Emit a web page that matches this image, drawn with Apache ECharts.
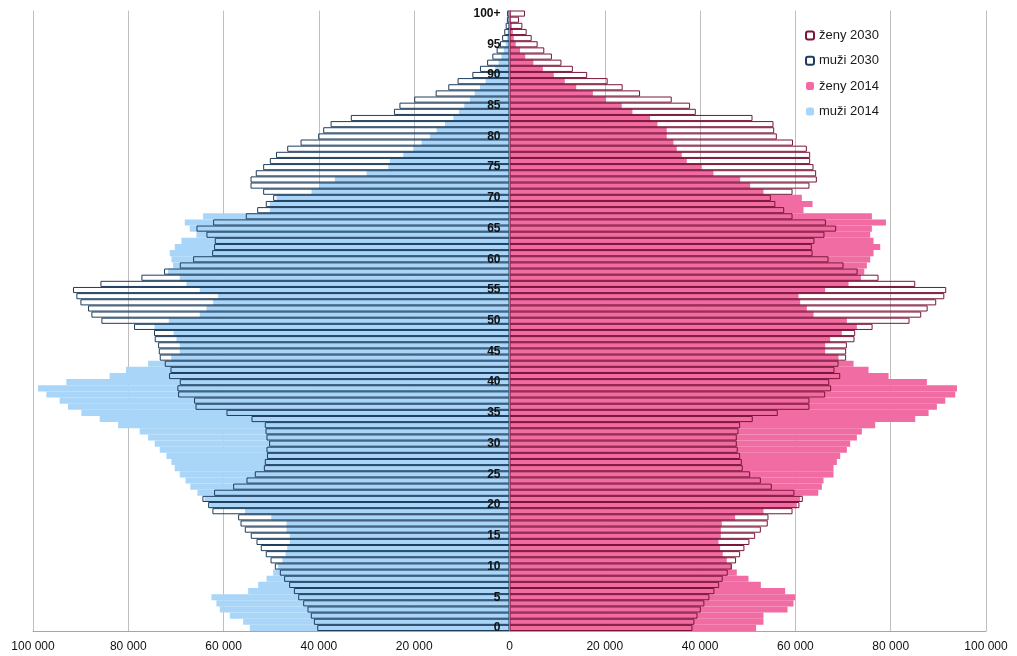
<!DOCTYPE html>
<html style="height: 100%">
<head>
<meta charset="utf-8">
<script type="text/javascript" src="https://cdn.jsdelivr.net/npm/echarts@6/dist/echarts.min.js"></script>
</head>
<body style="height: 100%; margin: 0; background: #fff">
<div id="container" style="width: 1017px; height: 656px"></div>
<script type="text/javascript">
// age groups, bottom to top
var ages = ['0','1','2','3','4','5','6','7','8','9','10','11','12','13','14','15','16','17','18','19',
    '20','21','22','23','24','25','26','27','28','29','30','31','32','33','34','35','36','37','38','39',
    '40','41','42','43','44','45','46','47','48','49','50','51','52','53','54','55','56','57','58','59',
    '60','61','62','63','64','65','66','67','68','69','70','71','72','73','74','75','76','77','78','79',
    '80','81','82','83','84','85','86','87','88','89','90','91','92','93','94','95','96','97','98','99','100+'];

var muzi2014 = [54500,55900,58700,60800,61500,62550,54850,52750,51000,49600,
    48550,47650,47000,46650,46100,46100,46800,46800,50000,55500,
    63000,64000,65500,67000,68000,69200,70250,70950,72000,73400,
    74450,75850,77600,82150,86000,89850,92650,94400,97200,98950,
    93000,83900,80500,75850,71000,69200,69200,69900,70500,74500,
    71500,65000,63600,62200,61150,65000,67800,69200,71650,70600,
    70950,71300,70250,68850,65700,67100,68150,64300,50300,50300,
    48900,41550,39800,36650,30000,25450,25100,22300,20200,18450,
    16700,15300,13550,11800,10600,9500,8300,7300,6200,5000,
    3900,3000,2300,1700,1200,800,550,400,250,150,100];

var zeny2014 = [51750,53300,53300,58350,59600,59950,57850,52750,50150,47700,
    46650,45600,44750,44200,43850,44350,44350,44550,47350,53300,
    60300,61000,64800,65550,65900,68000,68000,68700,69400,70800,
    71500,72900,73950,76750,85150,87950,89700,91450,93550,93900,
    87600,79550,75350,72200,69050,66250,66250,67300,69750,72900,
    70800,63800,62400,61000,60650,66250,71150,73750,74450,75000,
    75700,76400,77800,76400,75700,76050,79000,76050,61700,63600,
    61350,53300,50500,48400,42800,40350,37200,36150,35100,34400,
    33000,33000,31050,29500,25800,23550,20250,17500,14000,11600,
    9300,7000,5000,3300,2200,1300,900,700,500,300,300];

var muzi2030 = [40350,41050,41700,42400,43300,44350,45250,46250,47300,48200,
    49250,50150,51150,52200,53100,54300,55550,56450,56950,62350,
    63250,64450,62000,58000,55200,53450,51550,51350,50900,51000,
    50450,51000,51200,51350,54150,59400,65900,66200,69550,69700,
    69200,71450,71150,72350,73400,73600,73750,74450,74600,78800,
    85650,87750,88450,90050,90900,91600,85850,77250,72500,69200,
    66400,62400,62000,61850,63600,65700,62200,55350,52950,51150,
    49600,51700,54350,54350,53250,51700,50300,49000,46650,43850,
    40150,39100,37550,33300,24250,23100,20000,15500,12850,10900,
    7800,6200,4700,3600,2700,2000,1550,1100,800,550,500];

var zeny2030 = [38400,38800,39450,40150,40900,41950,43000,44000,44750,45800,
    46650,47550,48400,49300,50350,51550,52750,54200,54350,59400,
    60850,61550,59800,55050,52750,50500,48950,48750,48400,47900,
    47700,47700,48050,48400,51050,56300,62950,62950,66250,67500,
    67100,69400,68200,69050,70650,70650,70800,72400,72550,76200,
    83950,86400,87750,89550,91250,91650,85150,77450,73050,70100,
    66950,63600,63450,64000,66100,68550,66400,59400,57650,55800,
    54850,59400,62950,64500,64350,63800,63100,63100,62400,59500,
    56100,55550,55400,51000,39100,37900,34050,27400,23750,20600,
    16300,13300,10900,8900,7300,5900,4650,3600,2700,2000,3250];

var legendNames = ['ženy 2030', 'muži 2030', 'ženy 2014', 'muži 2014'];

var neg = function (arr) {
    return arr.map(function (v) { return -v; });
};
var fmt = function (v) {
    return String(Math.abs(v)).replace(/\B(?=(\d{3})+(?!\d))/g, ' ');
};

var dom = document.getElementById("container");
var myChart = echarts.init(dom);
var font = 'Arial, "Liberation Sans", sans-serif';

// grid edges; the age axis sits in the middle (x = 0)
var gridLeft = 33, gridRight = 31;
var plotW = 1017 - gridLeft - gridRight;

var option = {
    backgroundColor: '#ffffff',
    animation: false,
    legend: {
        orient: 'vertical',
        left: 805,
        top: 29,
        padding: 0,
        itemWidth: 8,
        itemHeight: 8,
        itemGap: 12.3,
        data: legendNames,
        textStyle: { color: '#1a1a1a', fontSize: 13, fontFamily: font }
    },
    grid: {
        left: gridLeft,
        right: gridRight,
        top: 10.5,
        bottom: 25
    },
    xAxis: {
        type: 'value',
        min: -100000,
        max: 100000,
        interval: 20000,
        axisLine: { show: true, lineStyle: { color: '#a6a6a6' } },
        axisTick: { show: false },
        splitLine: { show: true, lineStyle: { color: '#bfbfbf', width: 1 } },
        axisLabel: {
            formatter: fmt,
            color: '#111',
            fontSize: 12,
            fontFamily: font,
            margin: 10
        }
    },
    yAxis: {
        type: 'category',
        data: ages,
        position: 'left',
        offset: -plotW / 2,
        axisLine: { show: true, onZero: false, lineStyle: { color: '#888' } },
        axisTick: { show: false },
        splitLine: { show: false },
        z: 10,
        axisLabel: {
            interval: 0,
            formatter: function (v, i) { return i % 5 === 0 ? v : ''; },
            color: '#111',
            fontSize: 12,
            fontWeight: 'bold',
            fontFamily: font,
            margin: 9
        }
    },
    series: [{
        name: 'muži 2014',
        type: 'bar',
        data: neg(muzi2014),
        barWidth: '100%',
        barGap: '-100%',
        itemStyle: { color: '#a9d6f8' }
    }, {
        name: 'ženy 2014',
        type: 'bar',
        data: zeny2014,
        barWidth: '100%',
        barGap: '-100%',
        itemStyle: { color: '#f06ca2' }
    }, {
        name: 'muži 2030',
        type: 'bar',
        data: neg(muzi2030),
        barWidth: '100%',
        barGap: '-100%',
        itemStyle: { color: 'rgba(255,255,255,0)', borderColor: '#1e3d5c', borderWidth: 1 }
    }, {
        name: 'ženy 2030',
        type: 'bar',
        data: zeny2030,
        barWidth: '100%',
        barGap: '-100%',
        itemStyle: { color: 'rgba(255,255,255,0)', borderColor: '#7a1537', borderWidth: 1 }
    }]
};
myChart.setOption(option, true);
</script>
</body>
</html>
